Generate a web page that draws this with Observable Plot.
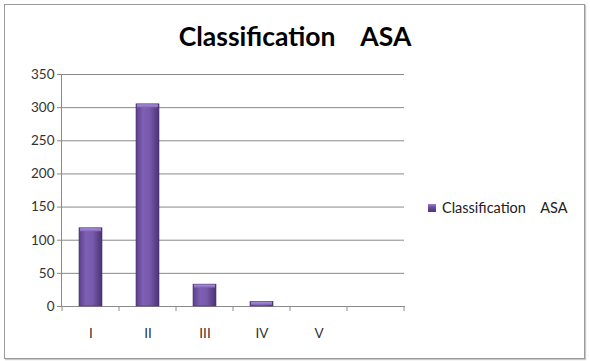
<!DOCTYPE html>
<html>
<head>
<meta charset="utf-8">
<script src="https://cdn.jsdelivr.net/npm/d3@7"></script>
<script src="https://cdn.jsdelivr.net/npm/@observablehq/plot@0.6"></script>
<style>
  html, body { margin: 0; padding: 0; background: #fff; }
  #wrap { position: relative; width: 590px; height: 361px; overflow: hidden; font-family: Lato, "Open Sans", sans-serif; }
  #border { position: absolute; left: 4px; top: 4px; width: 579px; height: 353px; border: 1.5px solid #9a9a9a; box-shadow: 1px 1px 1px #c8c8c8; }
  #title { position: absolute; left: 0; width: 590px; top: 20px; text-align: center; font-weight: bold; font-size: 26.5px; color: #000; white-space: pre; }
  #legend { position: absolute; left: 428px; top: 199px; font-size: 14.5px; color: #222; white-space: pre; display: flex; align-items: center; }
  #legend .sw { width: 8px; height: 8px; margin-right: 6px; background: linear-gradient(to bottom, #9b7fd0, #6a4c9c 40%, #4d3677); }
  #chart { position: absolute; left: 0; top: 0; }
</style>
</head>
<body>
<div id="wrap">
  <div id="border"></div>
  <div id="chart"></div>
  <div id="title"></div>
  <div id="legend"><span class="sw"></span><span id="legtext"></span></div>
</div>
<script>
const chartTitle = "Classification    ASA";
const seriesName = "Classification    ASA";
const categories = ["I", "II", "III", "IV", "V", ""];
const values = [118, 305, 33, 7, 0, null];
const yTicks = [0, 50, 100, 150, 200, 250, 300, 350];

document.getElementById("title").textContent = chartTitle;
document.getElementById("legtext").textContent = seriesName;

const data = categories.map((c, i) => ({cls: c, value: values[i]})).filter(d => d.value != null);

const catTicks = (index, scales, values, dims) => {
  const g = d3.create("svg:g");
  const x = scales.x;
  const bw = x.bandwidth ? x.bandwidth() : 0;
  const y0 = scales.y(0);
  const edges = categories.map(c => x(c)).concat([x(categories[categories.length - 1]) + bw]);
  for (const ex of edges) {
    g.append("line").attr("x1", ex).attr("x2", ex).attr("y1", y0).attr("y2", y0 + 5)
      .attr("stroke", "#8c8c8c").attr("stroke-width", 1);
  }
  return g.node();
};

const plot = Plot.plot({
  width: 590,
  height: 361,
  marginLeft: 61,
  marginRight: 186,
  marginTop: 74,
  marginBottom: 55,
  style: {fontFamily: "Lato, 'Open Sans', sans-serif", fontSize: "13px", color: "#333", background: "transparent"},
  x: {domain: categories, padding: 0, label: null},
  y: {domain: [0, 350], label: null},
  marks: [
    Plot.gridY(yTicks, {stroke: "#8a8a8a", strokeOpacity: 1, strokeWidth: 1}),
    Plot.axisY(yTicks, {tickSize: 4, tickPadding: 3, stroke: "#8a8a8a", fill: "#333", fontSize: 13.5, label: null}),
    Plot.axisX({tickSize: 0, tickPadding: 22, fill: "#333", fontSize: 13.5, label: null}),
    Plot.frame({anchor: "left", stroke: "#8a8a8a"}),
    Plot.frame({anchor: "bottom", stroke: "#8a8a8a"}),
    catTicks,
    Plot.barY(data.filter(d => d.value > 0), {x: "cls", y: "value", fill: "url(#barGrad)", stroke: "#4a3470", strokeWidth: 0.6, insetLeft: 17, insetRight: 17}),
    Plot.barY(data.filter(d => d.value > 0), {x: "cls", y1: "value", y2: "value", fill: "url(#capGrad)", insetLeft: 18, insetRight: 18, insetTop: 0.5, insetBottom: -3.5})
  ]
});

const defs = d3.select(plot).insert("defs", ":first-child");
const bg = defs.append("linearGradient").attr("id", "barGrad").attr("x1", "0").attr("x2", "1").attr("y1", "0").attr("y2", "0");
bg.append("stop").attr("offset", "0%").attr("stop-color", "#5a3f8a");
bg.append("stop").attr("offset", "30%").attr("stop-color", "#7f5fb4");
bg.append("stop").attr("offset", "60%").attr("stop-color", "#7759ab");
bg.append("stop").attr("offset", "100%").attr("stop-color", "#4b3373");
const cg = defs.append("linearGradient").attr("id", "capGrad").attr("x1", "0").attr("x2", "0").attr("y1", "0").attr("y2", "1");
cg.append("stop").attr("offset", "0%").attr("stop-color", "#a98fd8");
cg.append("stop").attr("offset", "100%").attr("stop-color", "#8467bb");

document.getElementById("chart").appendChild(plot);
</script>
</body>
</html>
